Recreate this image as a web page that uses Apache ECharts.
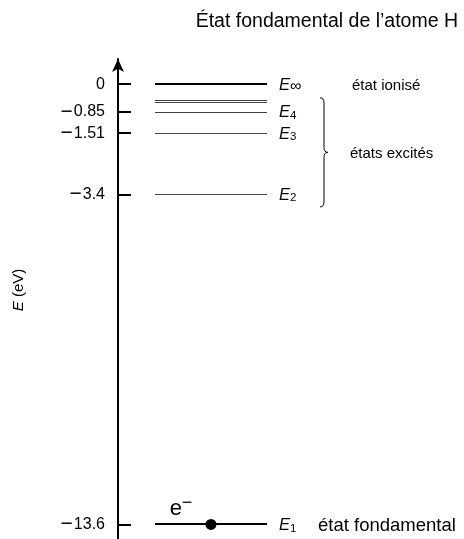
<!DOCTYPE html>
<html>
<head>
<meta charset="utf-8">
<script src="https://cdn.jsdelivr.net/npm/echarts@6/dist/echarts.min.js"></script>
<style>
html,body{margin:0;padding:0;background:#fff;}
#c{width:464px;height:539px;}
</style>
</head>
<body>
<div id="c"></div>
<script>
// ---- data ----
const titleText = 'État fondamental de l\u2019atome H';
const tickValues = [0, -0.85, -1.51, -3.4, -13.6];
const tickLabels = ['0', '\u22120.85', '\u22121.51', '\u22123.4', '\u221213.6'];
const levelEnergies = [0, -0.48, -0.55, -0.85, -1.51, -3.4, -13.6];
const levelSubscripts = ['\u221e', '', '', '4', '3', '2', '1'];
const electronEnergy = [-13.6];
const excitedRange = [-0.42, -3.79];
const stateNames = ['état ionisé', 'états excités', 'état fondamental'];
const stateEnergies = [0, null, -13.6];

// ---- layout (px from axis, x-axis in pixel units) ----
const FONT = 'Liberation Sans';
const LEVEL_X0 = 37, LEVEL_X1 = 149;
const ELECTRON_X = 93;
const BRACE_X = 202;

const chart = echarts.init(document.getElementById('c'), null, {renderer: 'canvas'});

function fmtTick(v) {
  const i = tickValues.findIndex(t => Math.abs(t - v) < 1e-9);
  if (i < 0) return '';
  const s = tickLabels[i];
  if (s.charAt(0) === '\u2212') return '{m|\u2212}{n|' + s.slice(1) + '}';
  return '{n|' + s + '}';
}

function renderLevel(params, api) {
  const i = params.dataIndex;
  const e = api.value(0);
  const a = api.coord([LEVEL_X0, e]);
  const b = api.coord([LEVEL_X1, e]);
  const strong = (i === 0 || i === levelEnergies.length - 1);
  const y = Math.round(a[1]) + (strong ? 0 : 0.5);
  const children = [{
    type: 'line',
    shape: {x1: a[0], y1: y, x2: b[0], y2: y},
    style: {stroke: strong ? '#000' : '#444', lineWidth: strong ? 2 : 1}
  }];
  const sub = levelSubscripts[i];
  if (sub) {
    const inf = sub === '\u221e';
    children.push({
      type: 'text', x: b[0] + 12, y: a[1] + 1,
      style: {
        text: '{e|E}{s|' + sub + '}',
        align: 'left', verticalAlign: 'middle',
        rich: {
          e: {fontFamily: FONT, fontStyle: 'italic', fontSize: 16.5, fill: '#000', lineHeight: 18, verticalAlign: 'middle'},
          s: {fontFamily: FONT, fontSize: inf ? 16 : 11.5, fill: '#000', lineHeight: inf ? 9 : 6, verticalAlign: 'bottom'}
        }
      }
    });
  }
  return {type: 'group', children};
}

function renderBrace(params, api) {
  const top = api.coord([BRACE_X, api.value(0)]);
  const bot = api.coord([BRACE_X, api.value(1)]);
  const x0 = top[0], xs = x0 + 4, xt = x0 + 8;
  const yT = top[1], yB = bot[1], yM = (yT + yB) / 2, r = 5;
  const d = `M${x0} ${yT} Q${xs} ${yT} ${xs} ${yT + r} L${xs} ${yM - r} Q${xs} ${yM} ${xt} ${yM} Q${xs} ${yM} ${xs} ${yM + r} L${xs} ${yB - r} Q${xs} ${yB} ${x0} ${yB}`;
  return {
    type: 'path', shape: {pathData: d},
    style: {stroke: '#000', lineWidth: 1, fill: null}
  };
}

function renderStates(params, api) {
  const i = params.dataIndex;
  let x, y, fs = 15;
  if (i === 1) {
    const t = api.coord([0, excitedRange[0]]), b = api.coord([0, excitedRange[1]]);
    y = (t[1] + b[1]) / 2 + 1;
    x = api.coord([232, 0])[0];
  } else if (i === 0) {
    y = api.coord([0, stateEnergies[0]])[1] + 2;
    x = api.coord([234, 0])[0];
  } else {
    y = api.coord([0, stateEnergies[2]])[1] + 1;
    x = api.coord([200, 0])[0];
    fs = 18.5;
  }
  return {
    type: 'text', x: x, y: y,
    style: {text: stateNames[i], fontFamily: FONT, fontSize: fs, fill: '#000', align: 'left', verticalAlign: 'middle'}
  };
}

chart.setOption({
  animation: false,
  backgroundColor: '#fff',
  title: {
    text: titleText, right: 1, top: 7,
    textStyle: {fontFamily: FONT, fontSize: 19.5, fontWeight: 'normal', color: '#000'}
  },
  grid: {left: 118, right: 0, top: 59, bottom: 0},
  xAxis: {type: 'value', min: 0, max: 346, show: false},
  yAxis: {
    type: 'value', min: -14.05, max: 0.78,
    name: '{i|E} (eV)', nameLocation: 'middle', nameGap: 92, nameRotate: 90,
    nameTextStyle: {
      fontFamily: FONT, fontSize: 15, color: '#000', padding: [0, 0, 0, 18],
      rich: {i: {fontFamily: FONT, fontSize: 15, fontStyle: 'italic', color: '#000'}}
    },
    axisLine: {show: true, symbol: ['none', 'arrow'], symbolSize: [9, 13], lineStyle: {color: '#000', width: 2}},
    axisTick: {show: true, inside: true, length: 13, customValues: tickValues, lineStyle: {color: '#000', width: 2}},
    axisLabel: {
      show: true, customValues: tickValues, formatter: fmtTick, margin: 13,
      fontFamily: FONT, fontSize: 16, color: '#000',
      rich: {
        m: {fontFamily: FONT, fontSize: 21, color: '#000', padding: [0, 1, 0, 0]},
        n: {fontFamily: FONT, fontSize: 16, color: '#000'}
      }
    },
    splitLine: {show: false}
  },
  series: [
    {
      type: 'custom', renderItem: renderLevel, clip: false,
      data: levelEnergies.map(e => [e]), encode: {y: 0}
    },
    {
      type: 'custom', renderItem: renderBrace, clip: false,
      data: [excitedRange], encode: {y: [0, 1]}
    },
    {
      type: 'custom', renderItem: renderStates, clip: false,
      data: stateNames.map((n, i) => [stateEnergies[i] === null ? excitedRange[0] : stateEnergies[i]]), encode: {y: 0}
    },
    {
      type: 'scatter', symbol: 'circle', symbolSize: 11, z: 5,
      itemStyle: {color: '#000', opacity: 1},
      emphasis: {disabled: true},
      data: electronEnergy.map(e => [ELECTRON_X, e]),
      label: {
        show: true, position: 'top', distance: 0, offset: [-30, 1],
        formatter: '{e|e}{m|\u2212}',
        rich: {
          e: {fontFamily: FONT, fontSize: 22, color: '#000', lineHeight: 22, verticalAlign: 'bottom'},
          m: {fontFamily: FONT, fontSize: 18, color: '#000', lineHeight: 16, verticalAlign: 'bottom', padding: [0, 0, 8, 0]}
        }
      }
    }
  ]
});
</script>
</body>
</html>
